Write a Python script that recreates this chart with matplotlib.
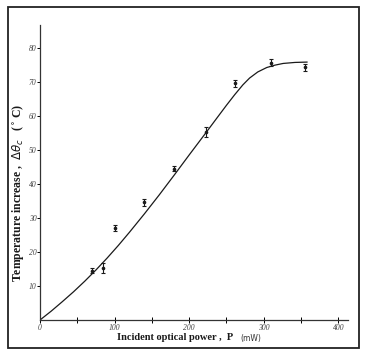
import matplotlib.pyplot as plt
from matplotlib.patches import Rectangle

# measured points (P in mW, temperature rise in C)
power_mw = [70, 85, 100, 140, 180, 222, 262, 310, 355]
temp_rise = [14.5, 15.3, 27.0, 34.6, 44.5, 55.3, 69.6, 75.6, 74.3]
temp_err = [0.8, 1.5, 0.8, 1.0, 0.8, 1.5, 1.0, 1.0, 1.0]

# fitted curve
curve_p = [0, 15, 30, 45, 60, 75, 90, 105, 120, 140, 160, 180, 200, 221, 237, 250,
           261, 272, 281, 292, 304, 315, 326, 342, 358]
curve_t = [0, 2.6, 5.4, 8.3, 11.4, 14.7, 18.2, 21.9, 25.8, 31.2, 36.8, 42.6, 48.5,
           54.6, 59.3, 63.1, 66.2, 69.1, 71.1, 72.9, 74.2, 74.9, 75.4, 75.7, 75.8]

x_ticks = [0, 100, 200, 300, 400]
x_minor = [50, 150, 250, 350]
y_ticks = [10, 20, 30, 40, 50, 60, 70, 80]

serif = ['Liberation Serif', 'DejaVu Serif']

fig = plt.figure(figsize=(3.66, 3.55), dpi=100)
fig.patches.append(Rectangle((8 / 366, 1 - 348 / 355), 351 / 366, 341 / 355,
                             transform=fig.transFigure, fill=False,
                             edgecolor='#222222', linewidth=1.3))

ax = fig.add_axes([40 / 366, 35 / 355, 308 / 366, 295 / 355])
ax.plot(curve_p, curve_t, color='#1a1a1a', linewidth=0.9)
ax.errorbar(power_mw, temp_rise, yerr=temp_err, fmt='o', color='#1a1a1a',
            markersize=1.6, elinewidth=0.8, capsize=1.3, capthick=0.8)

ax.set_xlim(0, 413)
ax.set_ylim(0, 86.7)
for s in ['top', 'right']:
    ax.spines[s].set_visible(False)
for s in ['left', 'bottom']:
    ax.spines[s].set_linewidth(0.9)
    ax.spines[s].set_color('#333333')

ax.set_xticks(x_ticks)
ax.set_xticks(x_minor, minor=True)
ax.set_xticklabels([str(v) for v in x_ticks], fontstyle='italic', family=serif,
                   fontsize=5.5, color='#444444')
ax.tick_params(axis='x', which='both', direction='inout', length=4, width=0.7, pad=1)
ax.set_yticks(y_ticks)
ax.set_yticklabels([str(v) for v in y_ticks], fontstyle='italic', family=serif,
                   fontsize=5.5, color='#444444')
ax.tick_params(axis='y', direction='out', length=2, width=0.7, pad=0.5)

fig.text(19 / 366, 1 - 193 / 355, r'Temperature increase ,  $\Delta\theta_c$   ($^\circ$C)',
         rotation=90, ha='center', va='center', family=serif, fontweight='bold',
         fontsize=8.5, color='#1a1a1a')
fig.text(117 / 366, 1 - 338 / 355, 'Incident optical power ,  P', ha='left', va='center',
         family=serif, fontweight='bold', fontsize=7.5, color='#1a1a1a')
fig.text(240 / 366, 1 - 338 / 355, '(mW)', ha='left', va='center',
         family=['DejaVu Sans'], fontsize=5.5, color='#333333')

fig.savefig('out.png', dpi=100)
